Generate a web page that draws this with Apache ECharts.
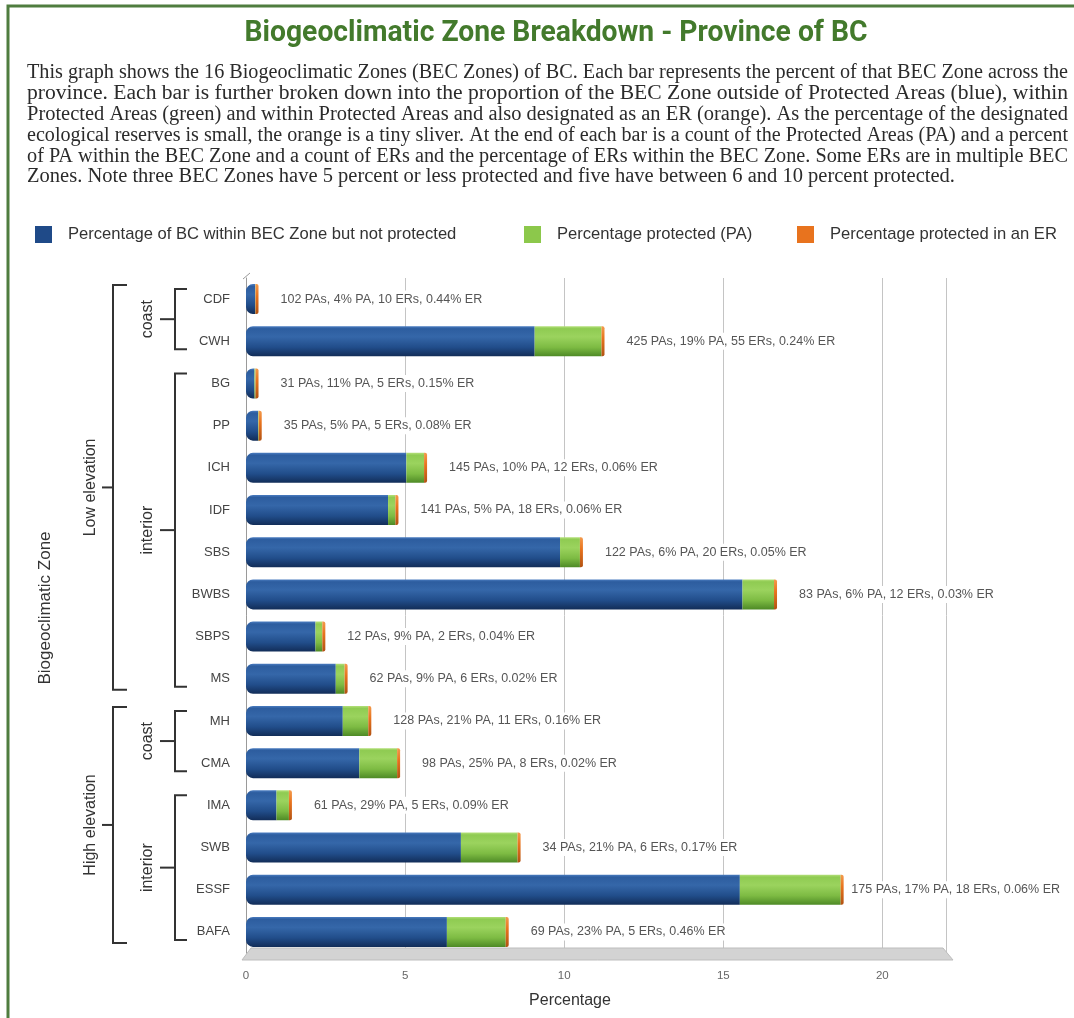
<!DOCTYPE html>
<html>
<head>
<meta charset="utf-8">
<title>Biogeoclimatic Zone Breakdown - Province of BC</title>
<script src="https://cdn.jsdelivr.net/npm/echarts@6/dist/echarts.min.js"></script>
<style>
  html, body { margin: 0; padding: 0; background: #fff; }
  #chart { width: 1074px; height: 1018px; }
</style>
</head>
<body>
<div id="chart"></div>
<script>
// BEC zones, top to bottom
const zones = ['CDF', 'CWH', 'BG', 'PP', 'ICH', 'IDF', 'SBS', 'BWBS', 'SBPS', 'MS', 'MH', 'CMA', 'IMA', 'SWB', 'ESSF', 'BAFA'];
// share of the province covered by each zone (%)
const zoneShare = [0.3, 11.2, 0.3, 0.4, 5.6, 4.7, 10.5, 16.6, 2.4, 3.1, 3.85, 4.75, 1.35, 8.55, 18.7, 8.2];
// protected areas: count and percent of the zone protected
const paCount = [102, 425, 31, 35, 145, 141, 122, 83, 12, 62, 128, 98, 61, 34, 175, 69];
const paPct = [4, 19, 11, 5, 10, 5, 6, 6, 9, 9, 21, 25, 29, 21, 17, 23];
// ecological reserves: count and percent of the zone designated ER
const erCount = [10, 55, 5, 5, 12, 18, 20, 12, 2, 6, 11, 8, 5, 6, 18, 5];
const erPct = [0.44, 0.24, 0.15, 0.08, 0.06, 0.06, 0.05, 0.03, 0.04, 0.02, 0.16, 0.02, 0.09, 0.17, 0.06, 0.46];

const seriesNames = [
  'Percentage of BC within BEC Zone but not protected',
  'Percentage protected (PA)',
  'Percentage protected in an ER'
];

// grouping brackets on the category axis
const elevationGroups = [
  { name: 'Low elevation', first: 'CDF', last: 'MS' },
  { name: 'High elevation', first: 'MH', last: 'BAFA' }
];
const regionGroups = [
  { name: 'coast', first: 'CDF', last: 'CWH' },
  { name: 'interior', first: 'BG', last: 'MS' },
  { name: 'coast', first: 'MH', last: 'CMA' },
  { name: 'interior', first: 'IMA', last: 'BAFA' }
];

const titleText = 'Biogeoclimatic Zone Breakdown - Province of BC';
const introLines = [
  'This graph shows the 16 Biogeoclimatic Zones (BEC Zones) of BC. Each bar represents the percent of that BEC Zone across the',
  'province. Each bar is further broken down into the proportion of the BEC Zone outside of Protected Areas (blue), within',
  'Protected Areas (green) and within Protected Areas and also designated as an ER (orange). As the percentage of the designated',
  'ecological reserves is small, the orange is a tiny sliver. At the end of each bar is a count of the Protected Areas (PA) and a percent',
  'of PA within the BEC Zone and a count of ERs and the percentage of ERs within the BEC Zone. Some ERs are in multiple BEC',
  'Zones. Note three BEC Zones have 5 percent or less protected and five have between 6 and 10 percent protected.'
];

// split each zone into unprotected / protected-only / ER parts
const erPart = zoneShare.map((t, i) => t * erPct[i] / 100);
const paOnlyPart = zoneShare.map((t, i) => t * paPct[i] / 100 - erPart[i]);
const unprotectedPart = zoneShare.map((t, i) => t * (1 - paPct[i] / 100));

const grad = (stops) => ({
  type: 'linear', x: 0, y: 0, x2: 0, y2: 1,
  colorStops: stops.map(([o, c]) => ({ offset: o, color: c }))
});
const blueFill = grad([[0, '#4a7cc0'], [0.08, '#2d5d9f'], [0.35, '#3567a9'], [0.7, '#214d8a'], [1, '#122d58']]);
const greenFill = grad([[0, '#b4e07a'], [0.08, '#8fcb52'], [0.35, '#9bd35e'], [0.7, '#7dbb43'], [1, '#4e8a26']]);
const orangeFill = grad([[0, '#f39a4c'], [0.4, '#e8731e'], [1, '#b25212']]);

const chart = echarts.init(document.getElementById('chart'), null, { renderer: 'canvas' });

const legendText = { fontSize: 16.6, color: '#333', fontFamily: 'Liberation Sans', padding: [0, 0, 0, 11] };
const legendBase = { top: 221, itemWidth: 17, itemHeight: 17, icon: 'rect', textStyle: legendText, selectedMode: false };

const chartWidth = 1074;

const option = {
  backgroundColor: '#fff',
  animation: false,
  legend: [
    Object.assign({ left: 30, data: [{ name: seriesNames[0], itemStyle: { color: '#1f4a88' } }] }, legendBase),
    Object.assign({ left: 519, data: [{ name: seriesNames[1], itemStyle: { color: '#8cc84b' } }] }, legendBase),
    Object.assign({ left: 792, data: [{ name: seriesNames[2], itemStyle: { color: '#e8731e' } }] }, legendBase)
  ],
  grid: { left: 246, right: 128, top: 278, bottom: 65 },
  xAxis: {
    type: 'value', min: 0, max: 22, interval: 5,
    axisLine: { show: false }, axisTick: { show: false },
    splitLine: { lineStyle: { color: '#c4c4c4', width: 1 } },
    axisLabel: { fontSize: 11.5, color: '#666', margin: 17, fontFamily: 'Liberation Sans', showMaxLabel: false },
    name: 'Percentage', nameLocation: 'middle', nameGap: 40,
    nameTextStyle: { fontSize: 16, color: '#333', fontFamily: 'Liberation Sans', padding: [0, 52, 0, 0] }
  },
  yAxis: {
    type: 'category', data: zones, inverse: true,
    axisLine: { lineStyle: { color: '#9a9a9a' } },
    axisTick: { length: 6, lineStyle: { color: '#9a9a9a' } },
    axisLabel: { fontSize: 13, color: '#444', margin: 16, fontFamily: 'Liberation Sans' }
  },
  series: [
    {
      name: seriesNames[0], type: 'bar', stack: 'zone', barWidth: 30,
      data: unprotectedPart,
      itemStyle: { color: blueFill, borderRadius: [7, 0, 0, 7] }
    },
    {
      name: seriesNames[1], type: 'bar', stack: 'zone', barWidth: 30,
      data: paOnlyPart,
      itemStyle: { color: greenFill }
    },
    {
      name: seriesNames[2], type: 'bar', stack: 'zone', barWidth: 30,
      barMinHeight: 3,
      data: erPart,
      itemStyle: { color: orangeFill, borderRadius: [0, 2, 2, 0] },
      label: {
        show: true, position: 'right', distance: 18,
        fontSize: 12.5, color: '#555', fontFamily: 'Liberation Sans',
        backgroundColor: '#fff', padding: [2, 4],
        formatter: (p) => {
          const i = p.dataIndex;
          return paCount[i] + ' PAs, ' + paPct[i] + '% PA, ' + erCount[i] + ' ERs, ' + erPct[i].toFixed(2) + '% ER';
        }
      },
      // keep long labels inside the canvas
      labelLayout: (p) => {
        const r = p.labelRect;
        const limit = chartWidth - 10;
        if (r.x + r.width > limit) {
          return { x: limit - r.width, y: r.y + r.height / 2, align: 'left', verticalAlign: 'middle' };
        }
        return {};
      }
    }
  ]
};

chart.setOption(option);

// ---- decorations placed from the axes' own scales ----
const yOf = (name) => chart.convertToPixel({ yAxisIndex: 0 }, name);
const xOf = (v) => chart.convertToPixel({ xAxisIndex: 0 }, v);
const band = yOf(zones[1]) - yOf(zones[0]);
const gridTop = yOf(zones[0]) - band / 2;
const gridBottom = yOf(zones[zones.length - 1]) + band / 2;
const x0 = xOf(0);
const xEnd = xOf(22);

const graphics = [];
const measureCtx = document.createElement('canvas').getContext('2d');

// frame around the figure
graphics.push({
  type: 'rect', silent: true,
  shape: { x: 8, y: 6, width: 1100, height: 1040 },
  style: { fill: null, stroke: '#4f7d3f', lineWidth: 3 }
});

// heading, set in a condensed bold face
const titleFont = 'bold 30px Roboto';
measureCtx.font = titleFont;
const titleScale = 623 / measureCtx.measureText(titleText).width;
graphics.push({
  type: 'text', silent: true,
  x: 556, y: 33, scaleX: titleScale,
  style: {
    text: titleText, font: titleFont, fill: '#437a2c',
    align: 'center', verticalAlign: 'middle', textAlign: 'center', textVerticalAlign: 'middle'
  }
});

// intro paragraph, justified line by line
const introFont = '20.5px "Liberation Serif"';
measureCtx.font = introFont;
const introLeft = 27, introRight = 1068, introTop = 73, introStep = 20.8;
const scales = introLines.slice(0, -1).map(l => (introRight - introLeft) / measureCtx.measureText(l).width);
const meanScale = scales.reduce((a, b) => a + b, 0) / scales.length;
introLines.forEach((line, i) => {
  const s = i < introLines.length - 1 ? scales[i] : meanScale;
  graphics.push({
    type: 'text', silent: true,
    x: introLeft, y: introTop + i * introStep, scaleX: s,
    style: {
      text: line, font: introFont, fill: '#2b2b2b',
      align: 'left', verticalAlign: 'middle', textAlign: 'left', textVerticalAlign: 'middle'
    }
  });
});

// 3D floor under the bars
graphics.push({
  type: 'polygon', silent: true, z: 0,
  shape: { points: [[x0 + 5, gridBottom - 5], [xEnd - 3, gridBottom - 5], [xEnd + 7, gridBottom + 7], [x0 - 4, gridBottom + 7]] },
  style: { fill: '#d3d3d3', stroke: '#bdbdbd', lineWidth: 1 }
});
// small slanted cap on top of the category axis
graphics.push({
  type: 'line', silent: true,
  shape: { x1: x0 - 3, y1: gridTop + 1, x2: x0 + 4, y2: gridTop - 5 },
  style: { stroke: '#9a9a9a', lineWidth: 1 }
});

function bracket(group, xLine, tip, stub, topOff, botOff, textX) {
  const yTop = yOf(group.first) + topOff;
  const yBot = yOf(group.last) + botOff;
  const yMid = (yTop + yBot) / 2;
  graphics.push({
    type: 'polyline', silent: true,
    shape: { points: [[xLine + tip, yTop], [xLine, yTop], [xLine, yBot], [xLine + tip, yBot]] },
    style: { stroke: '#333', lineWidth: 2, fill: null }
  });
  graphics.push({
    type: 'line', silent: true,
    shape: { x1: xLine - stub, y1: yMid, x2: xLine, y2: yMid },
    style: { stroke: '#333', lineWidth: 2 }
  });
  graphics.push({
    type: 'text', silent: true,
    x: textX, y: yMid, rotation: Math.PI / 2,
    style: {
      text: group.name, fontSize: 16, fontFamily: 'Liberation Sans', fill: '#333',
      align: 'center', verticalAlign: 'middle', textAlign: 'center', textVerticalAlign: 'middle'
    }
  });
}
regionGroups.forEach(g => bracket(g, 175, 12, 15, -10, 8, 148));
elevationGroups.forEach(g => bracket(g, 113, 14, 11, -14, 11, 91));

// category axis title
graphics.push({
  type: 'text', silent: true,
  x: 45, y: 608, rotation: Math.PI / 2,
  style: {
    text: 'Biogeoclimatic Zone', fontSize: 17, fontFamily: 'Liberation Sans', fill: '#333',
    align: 'center', verticalAlign: 'middle', textAlign: 'center', textVerticalAlign: 'middle'
  }
});

chart.setOption({ graphic: { elements: graphics } });
</script>
</body>
</html>
